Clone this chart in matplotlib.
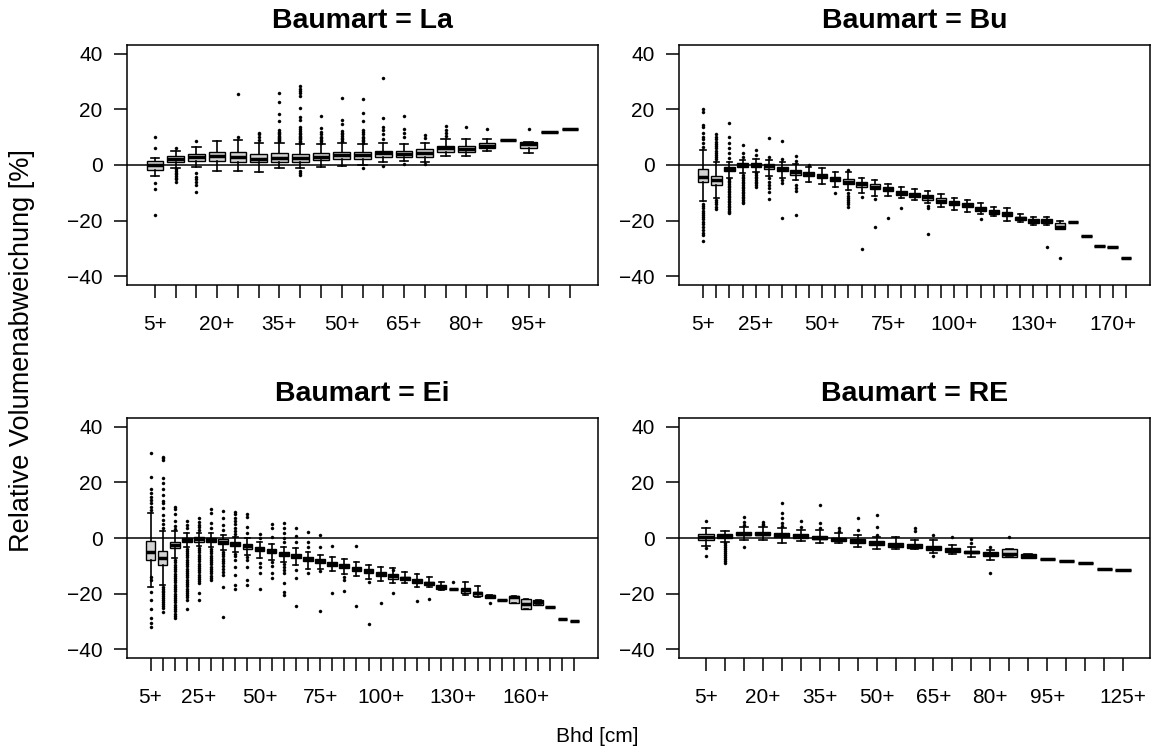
import matplotlib
matplotlib.use("Agg")
import matplotlib.pyplot as plt

plt.rcParams['font.family'] = ['Liberation Sans', 'DejaVu Sans']

# ---------------- Baumart = La ----------------
la_labels = ["5+", "10+", "15+", "20+", "25+", "30+", "35+", "40+", "45+", "50+", "55+",
             "60+", "65+", "70+", "75+", "80+", "85+", "90+", "95+", "100+", "105+"]
la_shown = ["5+", "20+", "35+", "50+", "65+", "80+", "95+"]
la_med = [0.1, 2.3, 2.9, 3.1, 3.0, 2.2, 2.4, 2.4, 3.0, 3.5, 3.6, 4.2, 4.0, 4.4, 6.0, 5.8, 7.0, 9.0, 7.4, 11.8, 13.0]
la_q1 = [-1.8, 1.1, 1.4, 1.4, 1.2, 1.0, 1.0, 1.0, 1.8, 2.0, 2.0, 2.8, 2.8, 3.0, 4.7, 4.7, 6.0, 9.0, 6.0, 11.8, 13.0]
la_q3 = [1.3, 3.2, 4.0, 4.8, 4.6, 4.0, 4.2, 3.9, 4.4, 4.8, 4.6, 5.2, 5.2, 5.6, 7.0, 7.0, 8.0, 9.0, 8.2, 11.8, 13.0]
la_lo = [-3.8, -1.1, -0.8, -2.0, -2.0, -2.6, -1.0, -1.2, -0.6, -0.4, 0.0, 1.2, 1.4, 1.2, 3.4, 3.2, 5.0, 9.0, 4.4, 11.8, 13.0]
la_hi = [2.6, 5.1, 6.6, 8.6, 9.0, 7.8, 8.0, 7.4, 7.4, 8.0, 7.4, 8.0, 7.4, 8.0, 9.4, 9.4, 9.4, 9.0, 8.3, 11.8, 13.0]
la_out = [
    [10.2, 6.3, -6.6, -8.5, -18.0],
    [6.1, -1.6, -2.2, -2.8, -3.4, -4.0, -4.6, -5.2, -6.0],
    [8.6, -3.0, -4.2, -5.1, -6.1, -7.2, -9.6],
    [],
    [10.2, 25.4],
    [11.7, 11.0, 10.2, 9.0],
    [8.6, 9.0, 9.4, 9.8, 10.2, 10.6, 11.0, 11.5, 12.0, 12.6, 15.8, 18.4, 22.6, 25.8],
    [8.0, 8.4, 8.8, 9.2, 9.6, 10.0, 10.5, 11.0, 11.6, 12.2, 13.0, 13.8, 16.2, 17.4, 20.6,
     24.8, 25.8, 26.6, 27.5, 28.4, -2.2, -3.0, -3.6],
    [8.0, 8.5, 9.0, 9.6, 10.2, 11.0, 11.8, 13.2, 17.6],
    [8.6, 9.2, 9.8, 10.4, 11.0, 11.6, 12.4, 14.8, 16.2, 24.1],
    [8.0, 8.5, 9.0, 9.6, 10.2, 11.0, 11.8, 12.6, 16.0, 18.6, 23.6, -1.2],
    [9.4, 11.2, 12.6, 13.8, 16.8, 31.2, -0.4],
    [10.0, 11.4, 13.0, 17.6, 0.2],
    [9.6, 10.8, 0.2],
    [10.6, 11.4, 12.6, 14.0],
    [13.6],
    [13.0],
    [],
    [13.0],
    [],
    [],
]

# ---------------- Baumart = Bu ----------------
bu_labels = ["5+", "10+", "15+", "20+", "25+", "30+", "35+", "40+", "45+", "50+", "55+",
             "60+", "65+", "70+", "75+", "80+", "85+", "90+", "95+", "100+", "105+",
             "110+", "115+", "120+", "125+", "130+", "135+", "140+", "145+", "150+",
             "160+", "170+", "180+"]
bu_shown = ["5+", "25+", "50+", "75+", "100+", "130+", "170+"]
bu_med = [-4.2, -5.5, -1.5, 0.0, 0.0, -0.5, -1.4, -2.6, -3.1, -4.0, -4.9, -6.0, -7.0, -7.8, -8.8,
          -10.0, -10.7, -11.6, -12.8, -13.8, -14.5, -15.7, -16.9, -17.5, -19.2, -20.2, -20.3,
          -22.2, -20.6, -25.4, -29.0, -29.4, -33.5]
bu_q1 = [-6.0, -7.2, -2.2, -0.6, -0.8, -1.3, -2.2, -3.5, -3.8, -4.6, -5.6, -6.8, -7.8, -8.5, -9.5,
         -10.7, -11.4, -12.6, -13.6, -14.5, -15.2, -16.4, -17.6, -18.2, -19.8, -21.0, -21.0,
         -22.9, -20.6, -25.4, -29.0, -29.4, -33.5]
bu_q3 = [-1.4, -4.0, -0.6, 0.6, 0.6, 0.2, -0.6, -1.8, -2.4, -3.4, -4.2, -5.2, -6.2, -7.0, -8.0,
         -9.2, -10.0, -10.8, -12.0, -13.0, -13.8, -15.0, -16.2, -16.8, -18.6, -19.3, -19.4,
         -21.0, -20.6, -25.4, -29.0, -29.4, -33.5]
bu_lo = [-12.8, -12.0, -4.6, -3.0, -2.4, -4.0, -4.5, -5.5, -6.0, -6.8, -7.8, -9.0, -10.2, -11.0,
         -11.2, -12.0, -12.6, -13.8, -15.0, -16.2, -16.8, -17.6, -18.4, -20.2, -20.6, -21.6,
         -21.5, -23.2, -20.6, -25.4, -29.0, -29.4, -33.5]
bu_hi = [5.4, 1.2, 1.2, 1.8, 2.0, 1.8, 1.2, 0.2, -0.6, -1.0, -2.4, -2.4, -4.8, -5.4, -6.8, -7.8,
         -8.8, -9.4, -10.6, -11.8, -12.6, -13.8, -15.0, -15.4, -17.8, -18.6, -18.8, -20.2,
         -20.6, -25.4, -29.0, -29.4, -33.5]
bu_out = [
    [6.6, 7.8, 9.2, 10.2, 11.4, 13.8, 14.4, 19.2, 20.0, -14.0, -14.8, -15.6, -16.4, -17.2,
     -18.0, -18.8, -19.6, -20.4, -21.4, -22.4, -23.4, -24.4, -25.2, -27.3],
    [2.0, 2.8, 3.6, 4.4, 5.2, 6.0, 6.8, 7.6, 8.4, 9.2, 10.0, 11.0, -12.6, -13.4, -14.2, -15.0, -15.8],
    [2.4, 4.2, 6.0, 7.8, 10.2, 15.0, -5.0, -5.6, -6.2, -6.8, -7.4, -8.0, -8.6, -9.2, -9.8,
     -10.4, -11.0, -11.6, -12.2, -12.8, -13.4, -14.0, -14.6, -15.2, -15.8, -16.4, -17.0, -17.4],
    [3.0, 4.4, 7.2, -3.6, -4.2, -4.8, -5.4, -6.0, -6.6, -7.2, -7.8, -8.4, -9.0, -9.6, -10.2,
     -10.8, -11.4, -12.0, -12.6, -13.2, -13.8],
    [3.6, 5.4, -3.0, -3.6, -4.2, -4.8, -5.4, -6.0, -6.6, -7.2, -7.8],
    [3.0, 9.6, -4.8, -6.0, -7.2, -8.4, -9.6, -12.4],
    [2.2, 8.8, -5.4, -6.6, -19.2],
    [1.4, 3.4, -7.2, -8.4, -9.4, -18.0],
    [0.0],
    [],
    [-10.2],
    [-1.8, -10.2, -11.0, -11.8, -12.6, -13.4, -14.2, -15.0],
    [-11.4, -30.2],
    [-12.2, -22.2],
    [-19.2],
    [-15.3],
    [],
    [-14.6, -15.6, -24.9],
    [], [], [], [-19.4], [], [], [], [],
    [-29.4],
    [-33.4],
    [], [], [], [], [],
]

# ---------------- Baumart = Ei ----------------
ei_labels = ["5+", "10+", "15+", "20+", "25+", "30+", "35+", "40+", "45+", "50+", "55+",
             "60+", "65+", "70+", "75+", "80+", "85+", "90+", "95+", "100+", "105+",
             "110+", "115+", "120+", "125+", "130+", "135+", "140+", "145+", "150+",
             "155+", "160+", "165+", "170+", "180+", "185+"]
ei_shown = ["5+", "25+", "50+", "75+", "100+", "130+", "160+"]
ei_med = [-4.9, -7.1, -2.5, -0.6, -0.5, -0.7, -1.3, -2.2, -3.0, -3.8, -4.7, -5.6, -6.5, -7.4,
          -8.4, -9.2, -10.1, -11.0, -12.0, -12.8, -13.8, -14.5, -15.6, -16.3, -17.8, -18.4,
          -18.8, -19.9, -21.0, -22.3, -21.4, -23.7, -23.2, -24.9, -29.0, -29.8]
ei_q1 = [-7.9, -9.7, -3.7, -1.3, -1.3, -1.4, -2.2, -2.9, -3.8, -4.7, -5.5, -6.4, -7.3, -8.2,
         -9.1, -10.0, -10.8, -11.8, -12.7, -13.6, -14.6, -15.2, -16.3, -17.0, -18.4, -18.4,
         -19.7, -21.0, -21.5, -22.3, -23.4, -25.5, -24.0, -24.9, -29.0, -29.8]
ei_q3 = [-1.0, -4.7, -1.6, 0.1, 0.2, -0.1, -0.5, -1.3, -2.3, -3.1, -4.0, -4.9, -5.8, -6.7,
         -7.7, -8.5, -9.4, -10.3, -11.3, -12.1, -13.0, -13.9, -14.8, -15.7, -16.9, -18.4,
         -18.1, -19.3, -20.6, -22.3, -20.8, -21.8, -22.4, -24.9, -29.0, -29.8]
ei_lo = [-17.8, -16.9, -7.3, -3.1, -3.0, -3.2, -4.3, -4.9, -6.1, -7.2, -7.8, -8.5, -9.8, -11.0,
         -11.2, -12.0, -13.0, -13.7, -14.8, -15.6, -16.3, -16.3, -17.5, -17.8, -18.7, -18.4,
         -20.4, -21.4, -21.5, -22.3, -23.4, -25.5, -24.0, -24.9, -29.0, -29.8]
ei_hi = [8.9, 2.6, 2.6, 1.7, 1.7, 1.7, 1.2, 0.5, -0.1, -1.3, -2.2, -3.1, -3.7, -4.9, -6.1, -7.0,
         -7.7, -8.5, -9.7, -10.3, -10.9, -12.1, -12.9, -14.2, -15.7, -18.4, -16.0, -17.2,
         -20.6, -22.3, -20.8, -21.8, -22.4, -24.9, -29.0, -29.8]
ei_out = [
    [30.5, 21.8, 17.5, 16.3, 14.9, 13.7, 12.5, 11.3, 10.1, -14.2, -15.0, -19.3, -22.3, -25.7,
     -28.9, -30.7, -31.9],
    [29.3, 28.7, 28.1, 21.7, 19.9, 17.6, 15.5, 13.5, 12.5, 10.7, 8.3, 6.5, 5.0, 3.6, -17.5,
     -18.2, -18.9, -19.6, -20.3, -21.0, -21.7, -22.4, -23.1, -23.8, -24.5, -25.3, -26.5],
    [11.3, 10.4, 8.6, 6.2, 4.4, 3.2, -8.0, -8.8, -9.6, -10.4, -11.2, -12.0, -12.8, -13.6, -14.4,
     -15.2, -16.0, -16.8, -17.6, -18.4, -19.2, -20.0, -20.8, -21.6, -22.4, -23.2, -24.0, -24.8,
     -25.6, -26.4, -27.2, -28.0, -28.9],
    [3.5, 4.7, 6.2, -3.8, -4.6, -5.4, -6.2, -7.0, -7.8, -8.6, -9.4, -10.2, -11.0, -11.8, -12.6,
     -13.4, -14.2, -15.0, -15.8, -16.6, -17.4, -18.2, -19.0, -19.8, -20.6, -21.4, -22.3, -25.7],
    [2.9, 3.8, 4.8, 5.9, 7.1, -3.6, -4.4, -5.2, -6.0, -6.8, -7.6, -8.4, -9.2, -10.0, -10.8,
     -11.6, -12.4, -13.2, -14.0, -14.8, -15.5, -16.1, -19.7, -22.3],
    [3.5, 5.3, 8.9, 10.3, -3.9, -4.7, -5.5, -6.3, -7.1, -7.9, -8.7, -9.5, -10.3, -11.1, -11.9,
     -12.7, -13.5, -14.3, -15.1],
    [2.9, 4.7, 7.1, 9.8, -5.0, -5.8, -6.6, -7.4, -8.2, -9.0, -10.0, -11.2, -12.2, -13.3, -17.8, -28.3],
    [1.3, 2.5, 3.7, 4.9, 6.1, 7.3, 8.5, 9.5, -5.6, -6.4, -7.9, -10.3, -13.3, -16.9, -18.5],
    [1.7, 4.1, 7.6, 8.5, -7.0, -8.0, -10.3, -15.1, -17.0],
    [-0.1, 1.4, -9.1, -10.3, -12.5, -18.4],
    [0.5, 3.5, 4.9, -8.8, -10.0, -12.5, -14.5],
    [-1.3, -0.1, 1.7, 3.5, 5.3, -9.5, -10.5, -11.5, -12.5, -16.3, -19.3, -20.5],
    [-1.3, 0.7, 3.7, -11.5, -14.5, -24.5],
    [-3.1, -1.3, 2.3, -12.7],
    [-3.1, 1.1, -11.8, -26.2],
    [-2.9, -19.9],
    [-13.9, -15.1, -19.1],
    [-2.8, -24.4],
    [-15.7, -31.0],
    [-23.5],
    [-11.5, -19.9],
    [],
    [-22.6],
    [-22.1],
    [],
    [-15.8],
    [], [],
    [-23.3],
    [], [], [], [], [], [], [],
]

# ---------------- Baumart = RE ----------------
re_labels = ["5+", "10+", "15+", "20+", "25+", "30+", "35+", "40+", "45+", "50+", "55+",
             "60+", "65+", "70+", "75+", "80+", "85+", "90+", "95+", "100+", "105+",
             "115+", "125+"]
re_shown = ["5+", "20+", "35+", "50+", "65+", "80+", "95+", "125+"]
re_med = [0.5, 0.7, 1.6, 1.6, 1.2, 0.7, 0.1, -0.5, -1.2, -1.9, -2.4, -2.9, -3.6, -4.3, -5.0,
          -5.8, -5.6, -6.6, -7.7, -8.3, -8.9, -11.2, -11.6]
re_q1 = [-0.7, -0.1, 1.0, 1.0, 0.5, 0.0, -0.5, -1.1, -1.9, -2.5, -3.1, -3.5, -4.3, -4.9, -5.5,
         -6.5, -6.7, -7.3, -7.7, -8.3, -8.9, -11.2, -11.6]
re_q3 = [1.3, 1.3, 2.2, 2.2, 1.9, 1.3, 0.7, 0.0, -0.5, -1.2, -1.7, -2.3, -2.9, -3.7, -4.6,
         -4.9, -4.1, -5.9, -7.7, -8.3, -8.9, -11.2, -11.6]
re_lo = [-2.8, -1.3, -0.7, -0.7, -1.7, -1.1, -1.9, -1.7, -3.1, -4.0, -4.0, -4.0, -5.5, -5.8,
         -6.7, -7.9, -6.7, -7.3, -7.7, -8.3, -8.9, -11.2, -11.6]
re_hi = [3.7, 2.5, 4.1, 4.1, 3.5, 2.9, 2.9, 1.7, 1.1, 0.5, 0.2, -0.7, -0.7, -2.5, -3.1, -4.3,
         -4.1, -5.9, -7.7, -8.3, -8.9, -11.2, -11.6]
re_out = [
    [6.1, -3.5, -6.5],
    [-1.9, -2.6, -3.3, -4.0, -4.7, -5.4, -6.1, -6.8, -7.5, -8.2, -8.9],
    [4.7, 5.9, 7.7, -3.1],
    [4.7, 5.0, 5.9],
    [4.4, 5.3, 7.1, 8.9, 12.5],
    [4.1, 6.2],
    [3.5, 5.3, 11.8],
    [2.5, 3.5],
    [2.9, 7.3],
    [1.1, 4.1, 8.3],
    [],
    [2.5, 3.5],
    [1.1, -6.5],
    [0.2],
    [-0.5, -1.9],
    [-3.1, -12.7],
    [0.2],
    [], [], [], [], [], [],
]

W, H = 1152, 756
fig = plt.figure(figsize=(W / 100, H / 100), dpi=100)


def add_panel(x0, y0, x1, y1):
    return fig.add_axes([x0 / W, 1 - y1 / H, (x1 - x0) / W, (y1 - y0) / H])


def draw_panel(ax, title, labels, shown, med, q1, q3, lo, hi, out):
    n = len(labels)
    stats = [dict(med=med[i], q1=q1[i], q3=q3[i], whislo=lo[i], whishi=hi[i],
                  fliers=out[i]) for i in range(n)]
    positions = list(range(1, n + 1))
    ax.bxp(stats, positions=positions, widths=0.8, patch_artist=True, showfliers=True,
           boxprops=dict(facecolor='#d3d3d3', edgecolor='black', linewidth=1.0),
           medianprops=dict(color='black', linewidth=2.5, solid_capstyle='butt'),
           whiskerprops=dict(color='black', linewidth=1.2),
           capprops=dict(color='black', linewidth=1.2),
           flierprops=dict(marker='o', markersize=2.2, markerfacecolor='black',
                           markeredgecolor='black', markeredgewidth=0.3, linestyle='none'))
    ax.axhline(0, color='black', linewidth=1.1, zorder=4)
    pad = 0.04 * n
    ax.set_xlim(0.5 - pad, n + 0.5 + pad)
    ax.set_ylim(-43.2, 43.2)
    ax.set_yticks([-40, -20, 0, 20, 40])
    ax.set_xticks(positions)
    ax.set_xticklabels([lab if lab in shown else '' for lab in labels])
    ax.tick_params(axis='both', length=9.5, width=1.1, labelsize=15, colors='black')
    ax.tick_params(axis='x', pad=12)
    ax.tick_params(axis='y', pad=8)
    for s in ax.spines.values():
        s.set_linewidth(1.1)
        s.set_color('black')
    ax.set_title(title, fontweight='bold', fontsize=20.5, pad=12)


ax_la = add_panel(127, 45, 598, 285)
ax_bu = add_panel(679, 45, 1150, 285)
ax_ei = add_panel(127, 418, 598, 658)
ax_re = add_panel(679, 418, 1150, 658)

draw_panel(ax_la, "Baumart = La", la_labels, la_shown, la_med, la_q1, la_q3, la_lo, la_hi, la_out)
draw_panel(ax_bu, "Baumart = Bu", bu_labels, bu_shown, bu_med, bu_q1, bu_q3, bu_lo, bu_hi, bu_out)
draw_panel(ax_ei, "Baumart = Ei", ei_labels, ei_shown, ei_med, ei_q1, ei_q3, ei_lo, ei_hi, ei_out)
draw_panel(ax_re, "Baumart = RE", re_labels, re_shown, re_med, re_q1, re_q3, re_lo, re_hi, re_out)

fig.text(22 / W, 1 - 351 / H, "Relative Volumenabweichung [%]", rotation=90,
         ha='center', va='center', fontsize=19.5)
fig.text(597 / W, 1 - 736 / H, "Bhd [cm]", ha='center', va='center', fontsize=15)

fig.savefig("out.png", dpi=100, facecolor='white')
